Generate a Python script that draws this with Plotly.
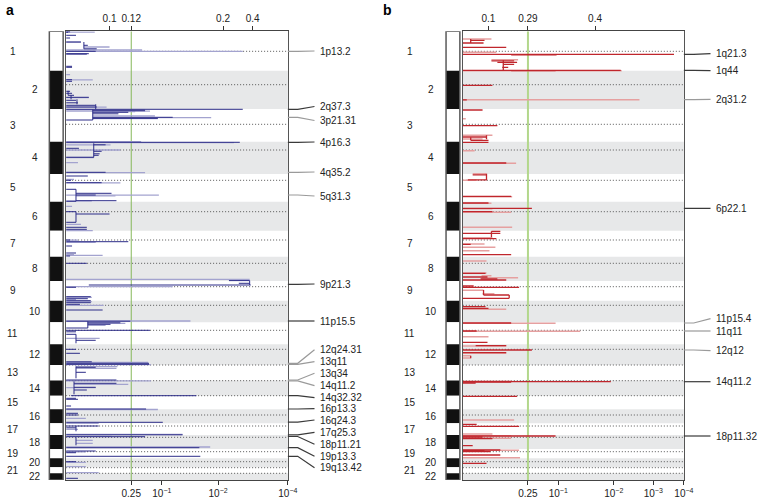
import plotly.graph_objects as go

W, H = 759, 504

# ---------------- genome layout (relative marker-index units) ----------------
chrom_names = [str(i) for i in range(1, 23)]
chrom_len = [39.4, 38.3, 32.7, 32.3, 27.7, 29.0, 26.0, 24.3, 19.7, 21.6, 22.0,
             20.7, 15.5, 15.2, 13.6, 14.0, 11.7, 14.0, 9.3, 9.0, 6.0, 6.7]
centromere_pos = [20.0, 53.4, 93.0, 118.7, 149.0, 180.4, 208.7, 232.0, 255.4, 274.0, 299.0,
                  318.0, 333.7, 349.4, 364.4, 383.7, 394.7, 406.0, 420.4, 430.4, 436.4, 442.0]

# ---------------- axes (transformed q-value scale) ----------------
a_scale_max = 224.7
a_q_tickpos = [66, 97, 154, 224.7]
a_q_ticktext = ['0.25', '10<sup>−1</sup>', '10<sup>−2</sup>', '10<sup>−4</sup>']
a_g_tickpos = [44, 66, 159, 189]
a_g_ticktext = ['0.1', '0.12', '0.2', '0.4']

b_scale_max = 224.0
b_q_tickpos = [66, 96.7, 153, 193, 224]
b_q_ticktext = ['0.25', '10<sup>−1</sup>', '10<sup>−2</sup>', '10<sup>−3</sup>', '10<sup>−4</sup>']
b_g_tickpos = [26, 66, 134]
b_g_ticktext = ['0.1', '0.29', '0.4']

q_threshold_label = '0.25'

# ---------------- panel a (deletions): (position, score_from, score_to) ----------------
a_dark = [(0.5, 0, 4), (1.0, 0, 2), (4.0, 0, 10), (6.7, 0, 4), (10.7, 0, 15), (14.0, 18, 22),
          (17.5, 18, 31), (20.0, 0, 30), (22.4, 0, 23), (22.8, 0, 21), (35.0, 0, 6), (36.0, 0, 6),
          (48.4, 0, 6), (50.0, 0, 6), (60.0, 0, 4), (62.0, 0, 6), (64.0, 2, 8), (66.0, 0, 23),
          (69.0, 0, 10), (71.5, 0, 12), (74.0, 0, 30), (75.7, 0, 31), (78.0, 0, 179),
          (79.4, 27, 80), (81.0, 27, 63), (82.5, 27, 53), (86.0, 27, 108), (87.3, 27, 93), (88.7, 0, 27),
          (111.0, 0, 176), (113.5, 28, 40), (117.0, 0, 13), (120.0, 28, 36), (122.5, 28, 34),
          (124.0, 28, 33), (126.0, 0, 28), (141.0, 0, 40),
          (144.7, 0, 22), (149.0, 0, 5), (151.4, 0, 36), (158.0, 0, 10), (162.0, 10, 46),
          (163.7, 10, 30), (169.4, 10, 51), (170.0, 0, 10),
          (180.4, 0, 10), (182.7, 10, 44), (191.0, 0, 10), (196.0, 0, 21), (198.0, 0, 21),
          (208.7, 0, 4), (210.4, 0, 63), (214.7, 0, 6), (221.7, 0, 10), (224.7, 0, 4),
          (232.0, 0, 21),
          (249.3, 165, 186), (252.0, 175, 186), (253.7, 23, 187), (256.0, 0, 10),
          (265.4, 0, 25), (267.4, 0, 22), (269.4, 0, 25), (271.4, 0, 25), (273.0, 0, 14), (278.7, 0, 37),
          (289.9, 0, 65), (291.5, 22, 55), (293.0, 22, 45), (296.7, 0, 22), (299.0, 0, 85),
          (300.5, 0, 10), (303.0, 0, 10), (309.0, 10, 30),
          (318.0, 0, 10), (322.0, 0, 14), (330.5, 0, 26), (332.0, 0, 84), (333.0, 0, 84),
          (336.0, 10, 30), (341.0, 10, 20),
          (348.7, 0, 51), (352.0, 8, 51), (356.0, 8, 30), (358.7, 8, 21), (364.4, 5, 132),
          (367.0, 0, 10), (368.0, 0, 12), (374.7, 0, 5),
          (377.7, 0, 81), (382.0, 0, 12), (383.7, 0, 12), (391.0, 0, 98),
          (394.7, 0, 33), (396.5, 0, 10), (403.5, 0, 118),
          (405.4, 0, 80), (416.4, 0, 135),
          (419.7, 0, 30), (421.4, 0, 10), (425.0, 0, 136),
          (430.4, 0, 10), (447.0, 0, 12)]
a_dark_steps = [(18, 10.7, 17.5), (2, 59.5, 64), (5, 64, 68), (11, 68, 73), (30, 73, 78),
                (27, 78.2, 88.7), (28, 112, 126), (10, 158, 170), (10, 180.4, 191),
                (186, 249.3, 253.7), (22, 290, 296.7), (10, 303, 312), (10, 335, 347),
                (8, 350, 363), (10, 394.7, 400), (10, 406, 414)]
a_light = [(0.8, 0, 29), (10.9, 0, 15), (15.7, 18, 44), (18.7, 0, 77), (20.0, 0, 179),
           (43.4, 0, 4), (48.6, 0, 27), (66.3, 0, 23), (75.9, 0, 41), (78.5, 0, 80),
           (79.8, 0, 85), (80.4, 27, 70), (84.5, 27, 90), (86.3, 27, 147),
           (110.4, 0, 76), (111.4, 0, 170), (113.5, 0, 45), (118.7, 0, 55), (126.2, 0, 28),
           (131.4, 0, 12), (141.3, 0, 80),
           (148.0, 0, 8), (151.6, 0, 55), (163.9, 0, 94), (164.5, 10, 50), (169.6, 0, 26),
           (175.0, 0, 6), (193.0, 0, 15), (199.4, 0, 27),
           (208.9, 0, 12), (211.0, 0, 30),
           (223.3, 0, 8), (224.0, 0, 37),
           (248.0, 0, 186), (255.4, 0, 108),
           (266.0, 0, 26), (268.4, 0, 10), (270.4, 0, 26), (274.0, 0, 38),
           (289.7, 0, 126), (292.0, 22, 60), (294.0, 22, 40), (307.0, 0, 34),
           (331.0, 0, 83), (333.3, 0, 86),
           (335.4, 10, 52), (337.0, 10, 51),
           (349.5, 0, 86), (353.0, 8, 63), (356.3, 0, 30),
           (378.2, 0, 93), (387.0, 0, 20), (392.0, 0, 33),
           (398.0, 0, 12), (403.0, 0, 118),
           (405.0, 0, 46), (409.0, 10, 27), (412.0, 10, 27), (415.7, 0, 146),
           (420.5, 0, 20), (431.0, 0, 20), (435.4, 0, 20), (441.4, 0, 33)]

a_peak_names = ['1p13.2', '2q37.3', '3p21.31', '4p16.3', '4q35.2', '5q31.3', '9p21.3',
                '11p15.5', '12q24.31', '13q11', '13q34', '14q11.2', '14q32.32', '16p13.3',
                '16q24.3', '17q25.3', '18p11.21', '19p13.3', '19q13.42']
a_peak_pos = [20.0, 78.0, 86.0, 111.0, 141.0, 163.7, 253.0, 289.7, 332.0, 333.0, 348.7,
              349.5, 364.4, 377.7, 390.8, 403.5, 405.2, 416.4, 425.0]
a_peak_series = ['light', 'dark', 'light', 'dark', 'light', 'light', 'dark', 'dark', 'light',
                 'light', 'light', 'light', 'dark', 'dark', 'dark', 'dark', 'dark', 'dark', 'dark']
a_label_pos = [19.7, 75.2, 89.2, 110.7, 140.7, 164.7, 252.7, 289.7, 318.4, 330.4, 342.0,
               354.4, 366.4, 377.4, 388.7, 401.0, 413.0, 425.0, 436.4]

# ---------------- panel b (amplifications) ----------------
b_dark = [(9.0, 8, 22), (11.7, 0, 21), (16.0, 0, 44), (23.0, 0, 214), (23.5, 49, 95),
          (29.5, 29, 52), (31.0, 35, 55), (33.0, 41, 52), (36.0, 40, 46), (39.0, 0, 160), (39.3, 49, 94),
          (54.0, 0, 30), (68.6, 0, 4), (78.7, 0, 20),
          (94.4, 0, 35), (105.7, 0, 24), (109.0, 8, 26), (111.0, 0, 26),
          (131.7, 0, 44), (143.5, 10, 24), (148.5, 5, 24),
          (165.0, 0, 49),
          (171.7, 0, 26), (177.0, 0, 70), (180.4, 0, 30),
          (200.0, 29, 38), (202.0, 0, 38), (207.3, 0, 34), (213.0, 0, 8), (223.4, 0, 49),
          (242.0, 0, 23), (245.7, 0, 25), (247.7, 18, 35), (248.7, 0, 44),
          (254.7, 0, 11), (256.0, 0, 57), (263.7, 21, 47), (267.0, 0, 47),
          (275.4, 0, 23), (277.0, 0, 26), (291.7, 0, 49),
          (299.7, 0, 14), (311.0, 0, 25),
          (314.4, 13, 44), (318.7, 0, 70), (321.4, 0, 44),
          (350.4, 0, 150), (350.9, 0, 49), (351.7, 0, 13), (365.0, 0, 55),
          (393.0, 0, 14), (395.0, 0, 57), (404.7, 0, 94), (405.7, 0, 20), (407.2, 0, 30),
          (414.4, 0, 10),
          (418.7, 0, 38), (419.4, 0, 22), (420.4, 0, 28), (423.7, 0, 38),
          (432.0, 0, 24)]
b_dark_steps = [(8, 7.7, 11.7), (41, 29, 39), (24, 104, 108), (8, 106, 109), (24, 142.4, 149),
                (29, 200, 206), (21, 258.7, 263.7), (47, 263.7, 267), (8, 324.4, 327)]
b_light = [(7.7, 0, 29), (21.0, 0, 34), (28.4, 29, 56), (39.4, 0, 161),
           (68.4, 0, 179),
           (87.4, 0, 3), (104.0, 0, 30), (107.7, 0, 20),
           (119.4, 0, 12), (132.0, 0, 54), (142.4, 10, 24), (149.0, 0, 14),
           (165.5, 0, 50),
           (172.0, 0, 29), (177.5, 0, 30), (181.0, 0, 49), (196.0, 0, 50),
           (206.5, 0, 30), (212.7, 0, 22), (216.0, 0, 33), (219.4, 0, 27),
           (229.7, 0, 24), (241.7, 0, 24), (244.4, 19, 29), (246.4, 19, 56),
           (259.0, 0, 21), (262.4, 20, 32),
           (278.0, 0, 44), (292.0, 0, 94),
           (300.0, 0, 119), (305.4, 0, 26),
           (314.7, 0, 44), (322.0, 0, 44), (324.4, 0, 8), (326.7, 0, 8),
           (350.0, 0, 50),
           (388.7, 0, 52),
           (402.7, 0, 30), (404.4, 0, 49), (407.0, 0, 49),
           (418.9, 0, 57), (420.0, 0, 26), (426.4, 0, 58)]

b_peak_names = ['1q21.3', '1q44', '2q31.2', '6p22.1', '11p15.4', '11q11', '12q12', '14q11.2', '18p11.32']
b_peak_pos = [23.0, 39.0, 68.4, 177.0, 291.7, 299.7, 318.7, 350.4, 404.7]
b_peak_series = ['dark', 'dark', 'light', 'dark', 'light', 'light', 'light', 'dark', 'dark']
b_label_pos = [22.4, 39.4, 68.0, 177.0, 287.4, 299.7, 319.4, 350.4, 404.7]

# ---------------- helpers ----------------
chrom_start = []
acc = 0.0
for L in chrom_len:
    chrom_start.append(acc)
    acc += L
genome_total = acc


def px(v):
    return v / W


def py(v):
    return 1 - v / H


def hsegs(segs):
    xs, ys = [], []
    for yv, x0, x1 in segs:
        xs += [x0, x1, None]
        ys += [yv, yv, None]
    return xs, ys


def vsegs(segs):
    xs, ys = [], []
    for xv, y0, y1 in segs:
        xs += [xv, xv, None]
        ys += [y0, y1, None]
    return xs, ys


FONT = 'Liberation Sans, Arial, Helvetica, sans-serif'
fig = go.Figure()

panels = [
    dict(x='x', y='y', xi='x3', yi='y3', xt='x5', smax=a_scale_max,
         dark=a_dark, steps=a_dark_steps, light=a_light,
         c_dark='#2c2c88', c_light='#a3a3cf', lw=1.0,
         qpos=a_q_tickpos, qtext=a_q_ticktext, gpos=a_g_tickpos, gtext=a_g_ticktext,
         green='#86b85a', gw=1.0,
         dom=(67, 291.7), idom=(50, 64), odd_x=13, even_x=35,
         pk_names=a_peak_names, pk_pos=a_peak_pos, pk_ser=a_peak_series, lab_pos=a_label_pos,
         letter='a', letter_x=4),
    dict(x='x2', y='y2', xi='x4', yi='y4', xt='x6', smax=b_scale_max,
         dark=b_dark, steps=b_dark_steps, light=b_light,
         c_dark='#c0262c', c_light='#e6a0a0', lw=1.3,
         qpos=b_q_tickpos, qtext=b_q_ticktext, gpos=b_g_tickpos, gtext=b_g_ticktext,
         green='#b3d78c', gw=2.0,
         dom=(469, 693), idom=(452, 466), odd_x=415, even_x=437,
         pk_names=b_peak_names, pk_pos=b_peak_pos, pk_ser=b_peak_series, lab_pos=b_label_pos,
         letter='b', letter_x=386),
]

shapes = []
annotations = []
layout_axes = {}
y_dom = [py(480), py(31.3)]

for i, p in enumerate(panels):
    xa, ya = p['x'], p['y']
    # centromere dotted lines
    cx, cy = [], []
    for c in centromere_pos:
        cx += [0, p['smax'], None]
        cy += [c, c, None]
    fig.add_trace(go.Scatter(x=cx, y=cy, mode='lines', xaxis=xa, yaxis=ya,
                             line=dict(color='#555555', width=1, dash='1px,2px'),
                             hoverinfo='skip', showlegend=False))
    # threshold line
    thr = p['qpos'][p['qtext'].index(q_threshold_label)]
    fig.add_trace(go.Scatter(x=[thr, thr], y=[0, genome_total], mode='lines', xaxis=xa, yaxis=ya,
                             line=dict(color=p['green'], width=p['gw']),
                             hoverinfo='skip', showlegend=False))
    # light profile
    lx, ly = hsegs(p['light'])
    fig.add_trace(go.Scatter(x=lx, y=ly, mode='lines', xaxis=xa, yaxis=ya,
                             line=dict(color=p['c_light'], width=p['lw'] + 0.3),
                             hoverinfo='skip', showlegend=False))
    # dark profile
    dx, dy = hsegs(p['dark'])
    sx, sy = vsegs(p['steps'])
    fig.add_trace(go.Scatter(x=dx + sx, y=dy + sy, mode='lines', xaxis=xa, yaxis=ya,
                             line=dict(color=p['c_dark'], width=p['lw']),
                             hoverinfo='skip', showlegend=False))
    # top axis dummy
    fig.add_trace(go.Scatter(x=[0], y=[0], xaxis=p['xt'], yaxis=ya, mode='markers',
                             marker=dict(opacity=0), hoverinfo='skip', showlegend=False))
    # ideogram
    fig.add_trace(go.Bar(x=[0] * len(chrom_len), y=chrom_len, base=chrom_start, width=1,
                         xaxis=p['xi'], yaxis=p['yi'],
                         marker=dict(color=['#ffffff' if k % 2 == 0 else '#111111'
                                            for k in range(len(chrom_len))],
                                     line=dict(width=0)),
                         hoverinfo='skip', showlegend=False))

    # gray bands for even chromosomes
    for k in range(1, len(chrom_len), 2):
        shapes.append(dict(type='rect', xref=f'{xa} domain', yref=ya, x0=0, x1=1,
                           y0=chrom_start[k], y1=chrom_start[k] + chrom_len[k],
                           fillcolor='#e7e8e9', line=dict(width=0), layer='below'))
    # ideogram border
    shapes.append(dict(type='rect', xref=f"{p['xi']} domain", yref=p['yi'], x0=0, x1=1,
                       y0=0, y1=genome_total, line=dict(color='#5a5a5a', width=1.5)))

    # axes
    n = '' if i == 0 else '2'
    layout_axes['xaxis' + n] = dict(domain=[px(p['dom'][0]), px(p['dom'][1])], range=[0, p['smax']],
                                    anchor=ya, tickmode='array', tickvals=p['qpos'], ticktext=p['qtext'],
                                    ticks='outside', ticklen=4, tickcolor='#333', tickwidth=1,
                                    showline=True, mirror=True, linecolor='#444', linewidth=1.2,
                                    showgrid=False, zeroline=False,
                                    tickfont=dict(size=10, color='#222'))
    layout_axes['yaxis' + n] = dict(domain=y_dom, range=[genome_total, 0], anchor=xa,
                                    showline=True, mirror=True, linecolor='#555', linewidth=1.2,
                                    showticklabels=False, ticks='', showgrid=False, zeroline=False)
    xi_n = p['xi'][1:]
    yi_n = p['yi'][1:]
    layout_axes['xaxis' + xi_n] = dict(domain=[px(p['idom'][0]), px(p['idom'][1])], range=[-0.5, 0.5],
                                       anchor=p['yi'], visible=False, fixedrange=True)
    layout_axes['yaxis' + yi_n] = dict(domain=y_dom, range=[genome_total, 0], anchor=p['xi'],
                                       visible=False)
    xt_n = p['xt'][1:]
    layout_axes['xaxis' + xt_n] = dict(overlaying=xa, side='top', anchor=ya, range=[0, p['smax']],
                                       tickmode='array', tickvals=p['gpos'], ticktext=p['gtext'],
                                       ticks='outside', ticklen=4, tickcolor='#333', tickwidth=1,
                                       showline=False, showgrid=False, zeroline=False,
                                       tickfont=dict(size=10, color='#222'))

    # chromosome labels
    for k, name in enumerate(chrom_names):
        xx = p['odd_x'] if k % 2 == 0 else p['even_x']
        annotations.append(dict(x=px(xx), y=chrom_start[k] + chrom_len[k] / 2, xref='paper', yref=ya,
                                text=name, showarrow=False, xanchor='center', yanchor='middle',
                                font=dict(size=10, color='#222')))

    # peak labels and connectors
    xr = p['dom'][1]
    for name, pp, ser, lp in zip(p['pk_names'], p['pk_pos'], p['pk_ser'], p['lab_pos']):
        col = '#3a3a3a' if ser == 'dark' else '#9a9a9a'
        shapes.append(dict(type='path', xref='paper', yref=ya,
                           path=f'M {px(xr)},{pp} L {px(xr + 10)},{pp} L {px(xr + 27)},{lp}',
                           line=dict(color=col, width=1.2)))
        annotations.append(dict(x=px(xr + 31), y=lp, xref='paper', yref=ya, text=name,
                                showarrow=False, xanchor='left', yanchor='middle',
                                font=dict(size=10, color='#222')))

    annotations.append(dict(x=px(p['letter_x']), y=py(10), xref='paper', yref='paper',
                            text=f"<b>{p['letter']}</b>", showarrow=False, xanchor='left',
                            yanchor='middle', font=dict(size=14, color='#000')))

fig.update_layout(width=W, height=H, margin=dict(l=0, r=0, t=0, b=0),
                  paper_bgcolor='white', plot_bgcolor='white',
                  font=dict(family=FONT, size=10, color='#222'),
                  barmode='overlay', showlegend=False,
                  shapes=shapes, annotations=annotations, **layout_axes)

fig.write_html('out.html', config={'displayModeBar': False},
               post_script="document.body.style.margin='0';document.body.style.padding='0';"
                           "document.documentElement.style.overflow='hidden';")
